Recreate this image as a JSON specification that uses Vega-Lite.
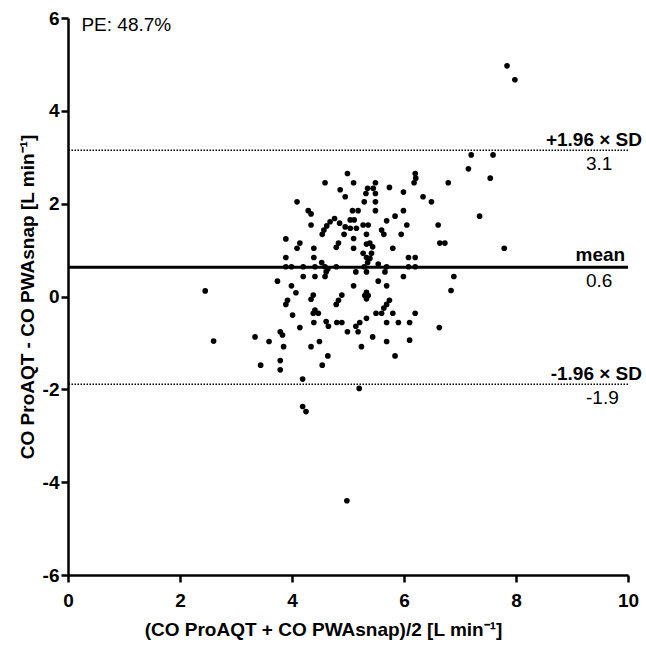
{
  "$schema": "https://vega.github.io/schema/vega-lite/v6.json",
  "width": 560,
  "height": 557,
  "autosize": {"type": "none"},
  "padding": {"left": 68, "top": 18, "right": 18, "bottom": 83},
  "background": "white",
  "config": {
    "view": {"stroke": null},
    "font": "Liberation Sans",
    "axis": {
      "grid": false,
      "domainColor": "black",
      "domainWidth": 2.5,
      "tickColor": "black",
      "tickWidth": 2.5,
      "tickSize": 7,
      "labelColor": "black",
      "labelFont": "Liberation Sans",
      "labelFontWeight": "bold",
      "labelFontSize": 19,
      "labelFlush": false,
      "labelOverlap": false,
      "titleColor": "black",
      "titleFont": "Liberation Sans",
      "titleFontWeight": "bold",
      "titleFontSize": 19
    }
  },
  "datasets": {
    "pts": [
      {"mean": 7.84, "diff": 4.97}, {"mean": 7.98, "diff": 4.67},
      {"mean": 7.20, "diff": 3.05}, {"mean": 7.59, "diff": 3.05}, {"mean": 7.15, "diff": 2.75},
      {"mean": 7.54, "diff": 2.55}, {"mean": 6.79, "diff": 2.45}, {"mean": 7.35, "diff": 1.73},
      {"mean": 6.64, "diff": 1.15}, {"mean": 6.73, "diff": 1.15}, {"mean": 7.79, "diff": 1.04},
      {"mean": 6.89, "diff": 0.43}, {"mean": 6.84, "diff": 0.13},
      {"mean": 4.99, "diff": 2.65}, {"mean": 4.59, "diff": 2.45}, {"mean": 5.10, "diff": 2.45},
      {"mean": 6.20, "diff": 2.65}, {"mean": 6.21, "diff": 2.55}, {"mean": 6.18, "diff": 2.45},
      {"mean": 5.49, "diff": 2.45}, {"mean": 5.35, "diff": 2.33}, {"mean": 5.45, "diff": 2.33},
      {"mean": 5.32, "diff": 2.22}, {"mean": 5.49, "diff": 2.22}, {"mean": 4.86, "diff": 2.30},
      {"mean": 4.95, "diff": 2.15}, {"mean": 5.74, "diff": 2.35}, {"mean": 5.99, "diff": 2.25},
      {"mean": 6.34, "diff": 2.15}, {"mean": 6.49, "diff": 2.04}, {"mean": 4.09, "diff": 2.04},
      {"mean": 5.29, "diff": 2.04}, {"mean": 5.49, "diff": 2.04}, {"mean": 4.29, "diff": 1.85},
      {"mean": 4.34, "diff": 1.78}, {"mean": 5.08, "diff": 1.85}, {"mean": 5.18, "diff": 1.85},
      {"mean": 5.49, "diff": 1.85}, {"mean": 5.99, "diff": 1.85}, {"mean": 5.84, "diff": 1.73},
      {"mean": 5.69, "diff": 1.63}, {"mean": 6.05, "diff": 1.54}, {"mean": 6.61, "diff": 1.54},
      {"mean": 4.34, "diff": 1.54}, {"mean": 4.76, "diff": 1.68}, {"mean": 4.68, "diff": 1.61},
      {"mean": 4.62, "diff": 1.52}, {"mean": 4.57, "diff": 1.43}, {"mean": 4.54, "diff": 1.34},
      {"mean": 4.85, "diff": 1.58}, {"mean": 5.04, "diff": 1.65}, {"mean": 5.11, "diff": 1.65},
      {"mean": 4.95, "diff": 1.50}, {"mean": 5.04, "diff": 1.47}, {"mean": 5.15, "diff": 1.47},
      {"mean": 5.27, "diff": 1.54}, {"mean": 5.36, "diff": 1.54}, {"mean": 4.93, "diff": 1.34},
      {"mean": 5.10, "diff": 1.25}, {"mean": 5.33, "diff": 1.34}, {"mean": 5.60, "diff": 1.43},
      {"mean": 5.64, "diff": 1.34}, {"mean": 5.95, "diff": 1.34}, {"mean": 3.89, "diff": 1.24},
      {"mean": 4.14, "diff": 1.15}, {"mean": 4.09, "diff": 1.04}, {"mean": 4.39, "diff": 1.04},
      {"mean": 4.83, "diff": 1.15}, {"mean": 4.79, "diff": 1.06}, {"mean": 5.10, "diff": 1.04},
      {"mean": 5.39, "diff": 1.15}, {"mean": 5.44, "diff": 1.07}, {"mean": 5.33, "diff": 1.13},
      {"mean": 5.80, "diff": 1.04}, {"mean": 5.27, "diff": 0.93}, {"mean": 5.33, "diff": 0.84},
      {"mean": 5.42, "diff": 0.93}, {"mean": 5.39, "diff": 0.82}, {"mean": 3.89, "diff": 0.84},
      {"mean": 4.39, "diff": 0.84}, {"mean": 6.08, "diff": 0.84}, {"mean": 6.20, "diff": 0.84},
      {"mean": 3.89, "diff": 0.64}, {"mean": 3.99, "diff": 0.64}, {"mean": 4.20, "diff": 0.64},
      {"mean": 4.41, "diff": 0.64}, {"mean": 4.53, "diff": 0.73}, {"mean": 4.59, "diff": 0.64},
      {"mean": 4.79, "diff": 0.64}, {"mean": 5.29, "diff": 0.64}, {"mean": 5.35, "diff": 0.73},
      {"mean": 5.54, "diff": 0.70}, {"mean": 5.69, "diff": 0.64}, {"mean": 6.08, "diff": 0.64},
      {"mean": 6.20, "diff": 0.64}, {"mean": 4.61, "diff": 0.53}, {"mean": 4.64, "diff": 0.59},
      {"mean": 4.20, "diff": 0.43}, {"mean": 4.41, "diff": 0.43}, {"mean": 4.59, "diff": 0.43},
      {"mean": 5.14, "diff": 0.53}, {"mean": 5.33, "diff": 0.53}, {"mean": 5.66, "diff": 0.53},
      {"mean": 5.99, "diff": 0.43}, {"mean": 3.74, "diff": 0.33}, {"mean": 2.45, "diff": 0.12},
      {"mean": 5.54, "diff": 0.33}, {"mean": 5.10, "diff": 0.23}, {"mean": 3.99, "diff": 0.23},
      {"mean": 4.07, "diff": 0.08}, {"mean": 5.69, "diff": 0.23}, {"mean": 5.30, "diff": 0.02},
      {"mean": 5.36, "diff": 0.02}, {"mean": 5.33, "diff": 0.09}, {"mean": 5.33, "diff": -0.05},
      {"mean": 4.38, "diff": 0.03}, {"mean": 4.34, "diff": -0.06}, {"mean": 4.89, "diff": 0.03},
      {"mean": 4.83, "diff": -0.08}, {"mean": 4.79, "diff": -0.17}, {"mean": 5.74, "diff": -0.08},
      {"mean": 5.69, "diff": -0.17}, {"mean": 5.64, "diff": -0.25}, {"mean": 3.92, "diff": -0.08},
      {"mean": 3.89, "diff": -0.17}, {"mean": 4.01, "diff": -0.40}, {"mean": 4.41, "diff": -0.29},
      {"mean": 4.38, "diff": -0.36}, {"mean": 4.47, "diff": -0.36}, {"mean": 5.50, "diff": -0.36},
      {"mean": 5.60, "diff": -0.36}, {"mean": 5.80, "diff": -0.36}, {"mean": 6.20, "diff": -0.36},
      {"mean": 5.33, "diff": -0.47}, {"mean": 4.14, "diff": -0.67}, {"mean": 4.61, "diff": -0.54},
      {"mean": 4.65, "diff": -0.64}, {"mean": 4.39, "diff": -0.56}, {"mean": 4.80, "diff": -0.56},
      {"mean": 4.89, "diff": -0.56}, {"mean": 5.21, "diff": -0.56}, {"mean": 5.14, "diff": -0.64},
      {"mean": 5.18, "diff": -0.76}, {"mean": 5.69, "diff": -0.56}, {"mean": 5.90, "diff": -0.56},
      {"mean": 6.10, "diff": -0.56}, {"mean": 4.99, "diff": -0.76}, {"mean": 6.63, "diff": -0.67},
      {"mean": 3.79, "diff": -0.76}, {"mean": 3.83, "diff": -0.83}, {"mean": 3.34, "diff": -0.87},
      {"mean": 2.60, "diff": -0.96}, {"mean": 5.44, "diff": -0.87}, {"mean": 6.10, "diff": -0.94},
      {"mean": 3.59, "diff": -0.97}, {"mean": 3.85, "diff": -1.08}, {"mean": 4.34, "diff": -1.08},
      {"mean": 4.49, "diff": -0.97}, {"mean": 5.24, "diff": -1.08}, {"mean": 5.69, "diff": -0.97},
      {"mean": 3.44, "diff": -1.48}, {"mean": 3.79, "diff": -1.38}, {"mean": 3.79, "diff": -1.58},
      {"mean": 4.54, "diff": -1.48}, {"mean": 4.64, "diff": -1.28}, {"mean": 5.84, "diff": -1.28},
      {"mean": 4.19, "diff": -1.78}, {"mean": 5.20, "diff": -1.98}, {"mean": 4.19, "diff": -2.37},
      {"mean": 4.25, "diff": -2.48}, {"mean": 4.98, "diff": -4.40}
    ],
    "sdlines": [{"diff": 3.15}, {"diff": -1.89}],
    "meanline": [{"diff": 0.63}],
    "boldlabels": [
      {"mean": 10.25, "diff": 3.15, "label": "+1.96 × SD"},
      {"mean": 10.25, "diff": -1.89, "label": "-1.96 × SD"}
    ],
    "meanlabel": [{"mean": 9.95, "diff": 0.63, "label": "mean"}],
    "values": [
      {"mean": 9.25, "diff": 3.15, "label": "3.1"},
      {"mean": 9.25, "diff": 0.63, "label": "0.6"},
      {"mean": 9.25, "diff": -1.89, "label": "-1.9"}
    ],
    "pe": [{"mean": 0.24, "diff": 6, "label": "PE: 48.7%"}]
  },
  "layer": [
    {
      "data": {"name": "sdlines"},
      "mark": {"type": "rule", "color": "black", "strokeWidth": 1.5, "strokeDash": [1.5, 1.5]},
      "encoding": {
        "y": {"field": "diff", "type": "quantitative", "scale": {"domain": [-6, 6], "nice": false}}
      }
    },
    {
      "data": {"name": "meanline"},
      "mark": {"type": "rule", "color": "black", "strokeWidth": 3},
      "encoding": {
        "y": {"field": "diff", "type": "quantitative"}
      }
    },
    {
      "data": {"name": "pts"},
      "mark": {"type": "circle", "color": "black", "opacity": 1, "size": 32},
      "encoding": {
        "x": {
          "field": "mean", "type": "quantitative",
          "scale": {"domain": [0, 10], "nice": false},
          "axis": {
            "values": [0, 2, 4, 6, 8, 10],
            "labelPadding": 9,
            "title": "(CO ProAQT + CO PWAsnap)/2 [L min⁻¹]",
            "titleX": 255,
            "titlePadding": 10
          }
        },
        "y": {
          "field": "diff", "type": "quantitative",
          "scale": {"domain": [-6, 6], "nice": false},
          "axis": {
            "values": [-6, -4, -2, 0, 2, 4, 6],
            "labelExpr": "replace(datum.label, '\u2212', '-')",
            "labelPadding": 2,
            "title": "CO ProAQT - CO PWAsnap [L min⁻¹]",
            "titlePadding": 5
          }
        }
      }
    },
    {
      "data": {"name": "boldlabels"},
      "mark": {"type": "text", "clip": false, "align": "right", "baseline": "alphabetic", "dy": -4, "font": "Liberation Sans", "fontWeight": "bold", "fontSize": 19, "color": "black"},
      "encoding": {
        "x": {"field": "mean", "type": "quantitative"},
        "y": {"field": "diff", "type": "quantitative"},
        "text": {"field": "label"}
      }
    },
    {
      "data": {"name": "meanlabel"},
      "mark": {"type": "text", "clip": false, "align": "right", "baseline": "alphabetic", "dy": -6, "font": "Liberation Sans", "fontWeight": "bold", "fontSize": 19, "color": "black"},
      "encoding": {
        "x": {"field": "mean", "type": "quantitative"},
        "y": {"field": "diff", "type": "quantitative"},
        "text": {"field": "label"}
      }
    },
    {
      "data": {"name": "values"},
      "mark": {"type": "text", "clip": false, "align": "left", "baseline": "alphabetic", "dy": 20, "font": "Liberation Sans", "fontSize": 19, "color": "black"},
      "encoding": {
        "x": {"field": "mean", "type": "quantitative"},
        "y": {"field": "diff", "type": "quantitative"},
        "text": {"field": "label"}
      }
    },
    {
      "data": {"name": "pe"},
      "mark": {"type": "text", "clip": false, "align": "left", "baseline": "top", "dy": -2, "font": "Liberation Sans", "fontSize": 19, "color": "black"},
      "encoding": {
        "x": {"field": "mean", "type": "quantitative"},
        "y": {"field": "diff", "type": "quantitative"},
        "text": {"field": "label"}
      }
    }
  ]
}
